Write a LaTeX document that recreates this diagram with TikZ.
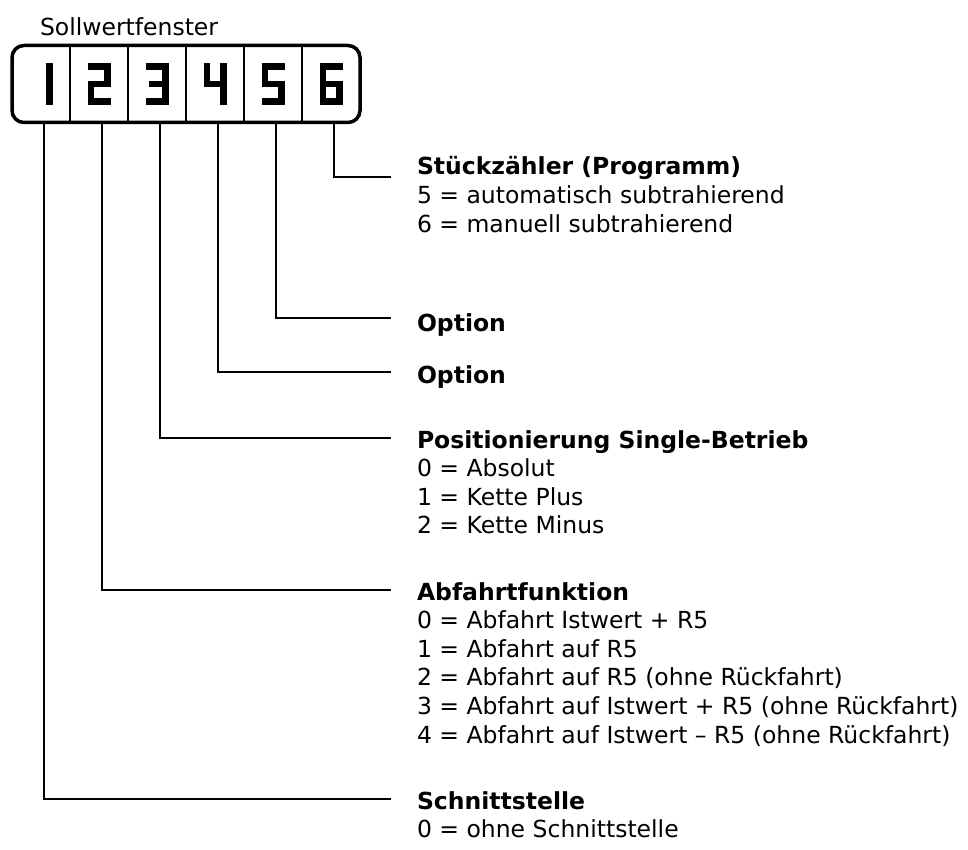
\documentclass[tikz,border=0pt]{standalone}
\usepackage{fontspec}
\setmainfont{DejaVu Sans}
\begin{document}
\begin{tikzpicture}[x=1pt,y=-1pt,
  every node/.style={inner sep=0pt,outer sep=0pt},
  lbl/.style={anchor=base west,font=\fontsize{23.5}{28.6}\selectfont},
  head/.style={anchor=base west,font=\fontsize{23.5}{28.6}\selectfont\bfseries},
  leader/.style={line width=1.8pt},
  divider/.style={line width=1.5pt},
  seg/.style={line width=6.8pt,line cap=rect,line join=miter}]
\useasboundingbox (0,0) rectangle (968,850);

% display box
\node[draw,line width=3.5pt,rounded corners=12pt,minimum width=348pt,minimum height=77pt] (box) at (186,84) {};
\node[lbl] (title) at (40,36) {Sollwertfenster};
\foreach \x in {70,128,186,244,302} \draw[divider] (\x,46) -- (\x,122);

% seven-segment digits (field width 23, local x: left 3.4, right 19.6)
\begin{scope}[shift={(29.5,0)}]
  \draw[seg] (19.6,66.4) -- (19.6,101.6);
\end{scope}
\begin{scope}[shift={(87.5,0)}]
  \draw[seg] (3.4,66.4) -- (19.6,66.4) -- (19.6,84) -- (3.4,84) -- (3.4,101.6) -- (19.6,101.6);
\end{scope}
\begin{scope}[shift={(145.5,0)}]
  \draw[seg] (3.4,66.4) -- (19.6,66.4) -- (19.6,101.6) -- (3.4,101.6);
  \draw[seg] (7,84) -- (19.6,84);
\end{scope}
\begin{scope}[shift={(203.5,0)}]
  \draw[seg] (3.4,66.4) -- (3.4,84) -- (19.6,84);
  \draw[seg] (19.6,66.4) -- (19.6,101.6);
\end{scope}
\begin{scope}[shift={(261.5,0)}]
  \draw[seg] (19.6,66.4) -- (3.4,66.4) -- (3.4,84) -- (19.6,84) -- (19.6,101.6) -- (3.4,101.6);
\end{scope}
\begin{scope}[shift={(319.5,0)}]
  \draw[seg] (19.6,66.4) -- (3.4,66.4) -- (3.4,101.6) -- (19.6,101.6) -- (19.6,84) -- (3.4,84);
\end{scope}

% texts
\node[head] (t6) at (417,175) {Stückzähler (Programm)};
\node[lbl] (t6a) at (417,203.6) {5 = automatisch subtrahierend};
\node[lbl] (t6b) at (417,232.2) {6 = manuell subtrahierend};
\node[head] (t5) at (417,331) {Option};
\node[head] (t4) at (417,383) {Option};
\node[head] (t3) at (417,448) {Positionierung Single-Betrieb};
\node[lbl] (t3a) at (417,476.6) {0 = Absolut};
\node[lbl] (t3b) at (417,505.2) {1 = Kette Plus};
\node[lbl] (t3c) at (417,533.8) {2 = Kette Minus};
\node[head] (t2) at (417,600) {Abfahrtfunktion};
\node[lbl] (t2a) at (417,628.6) {0 = Abfahrt Istwert + R5};
\node[lbl] (t2b) at (417,657.2) {1 = Abfahrt auf R5};
\node[lbl] (t2c) at (417,685.8) {2 = Abfahrt auf R5 (ohne Rückfahrt)};
\node[lbl] (t2d) at (417,714.4) {3 = Abfahrt auf Istwert + R5 (ohne Rückfahrt)};
\node[lbl] (t2e) at (417,743) {4 = Abfahrt auf Istwert – R5 (ohne Rückfahrt)};
\node[head] (t1) at (417,809) {Schnittstelle};
\node[lbl] (t1a) at (417,837.6) {0 = ohne Schnittstelle};

% leader coordinates
\coordinate (x1) at (44,0);
\coordinate (x2) at (102,0);
\coordinate (x3) at (160,0);
\coordinate (x4) at (218,0);
\coordinate (x5) at (276,0);
\coordinate (x6) at (334,0);
\coordinate (e6) at (391,177);
\coordinate (e5) at (391,318);
\coordinate (e4) at (391,372);
\coordinate (e3) at (391,438);
\coordinate (e2) at (391,590);
\coordinate (e1) at (391,799);

\draw[leader] (box.south -| x6) |- (e6);
\draw[leader] (box.south -| x5) |- (e5);
\draw[leader] (box.south -| x4) |- (e4);
\draw[leader] (box.south -| x3) |- (e3);
\draw[leader] (box.south -| x2) |- (e2);
\draw[leader] (box.south -| x1) |- (e1);
\end{tikzpicture}
\end{document}
